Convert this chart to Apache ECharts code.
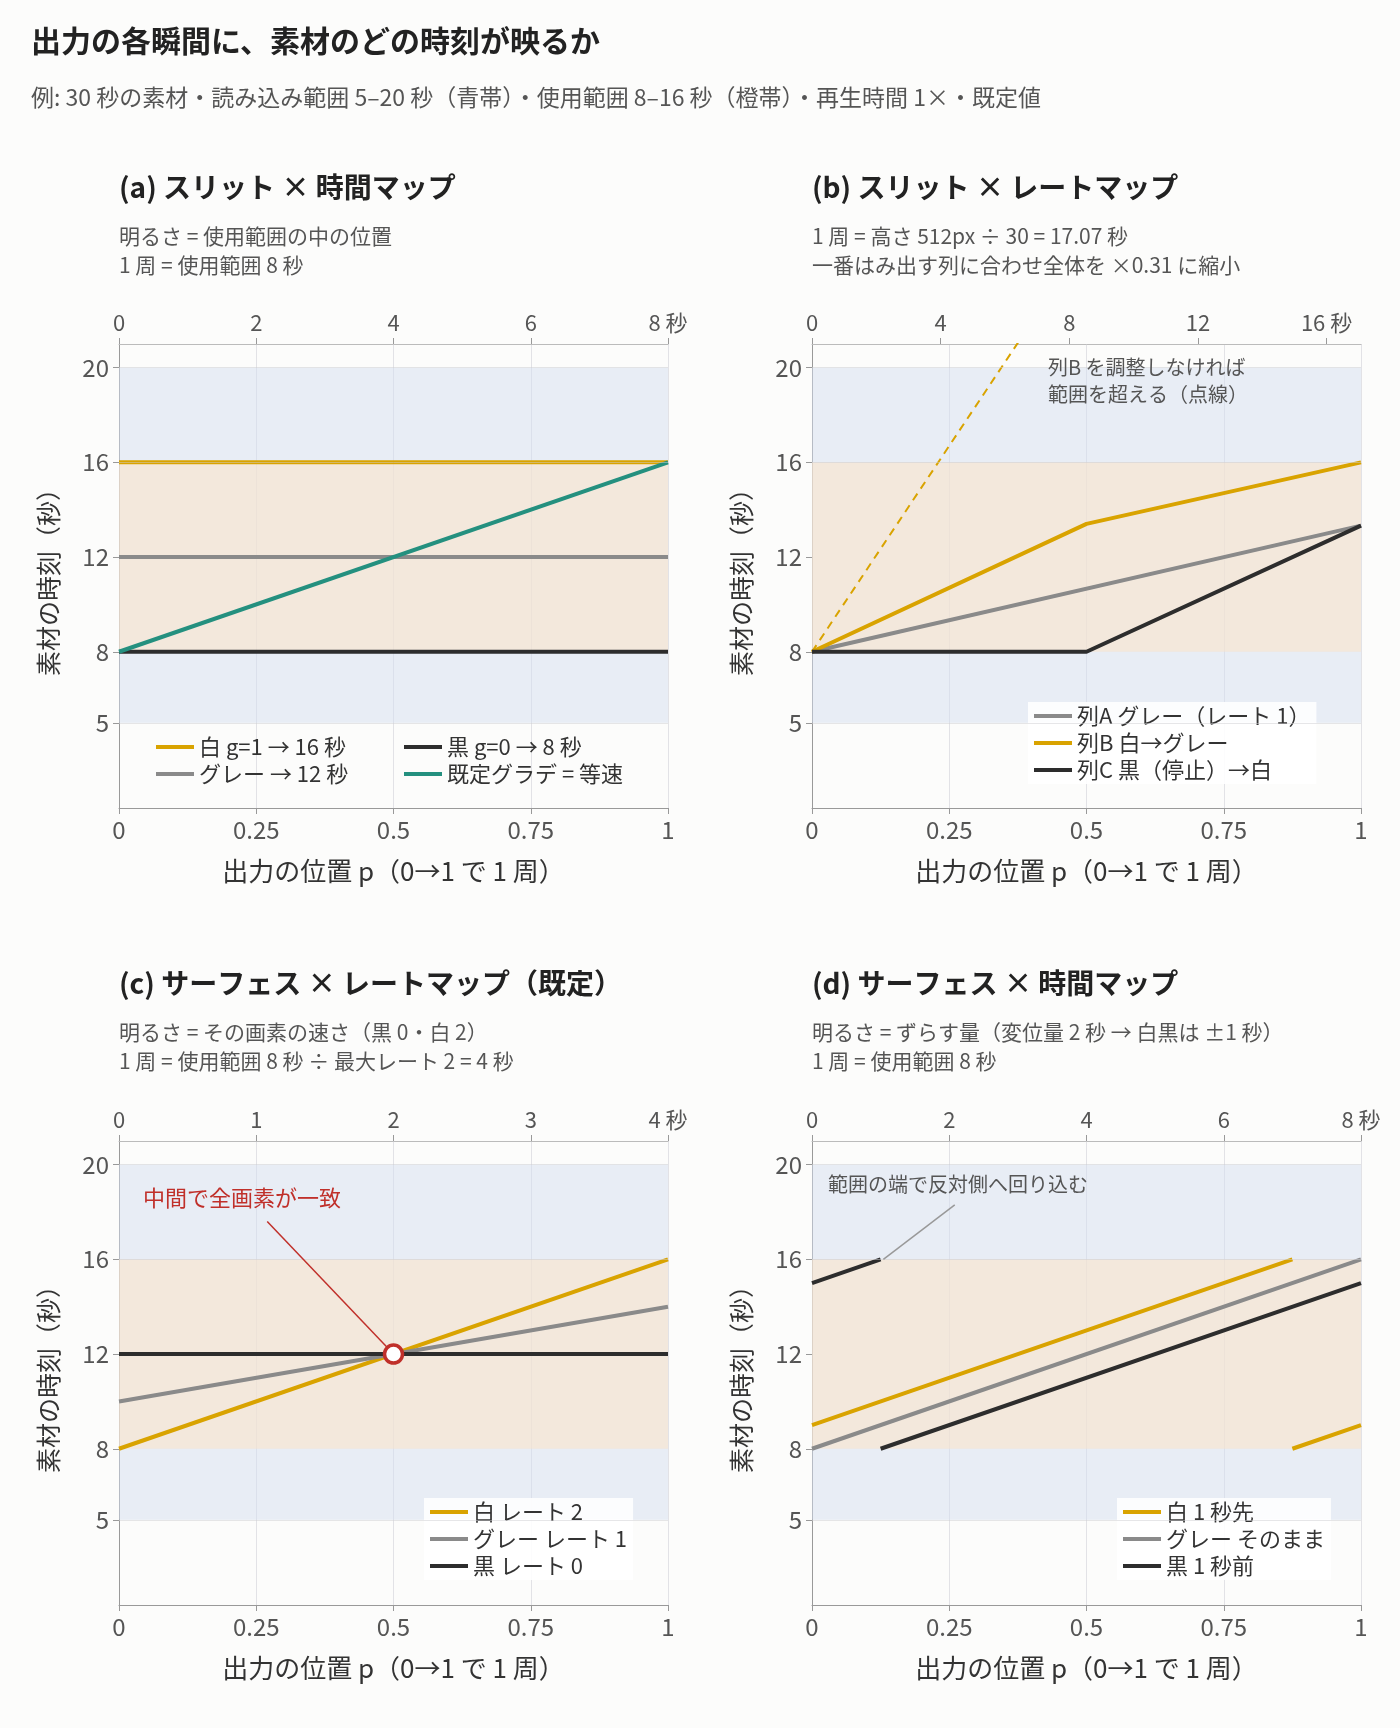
<!DOCTYPE html>
<html><head><meta charset="utf-8">
<script src="https://cdn.jsdelivr.net/npm/echarts@6/dist/echarts.min.js"></script>
<style>html,body{margin:0;background:#fcfcfb}#main{width:1400px;height:1728px}</style>
</head><body><div id="main"></div>
<script>
// (a) slit x time map
var aWhite = [[0, 16], [1, 16]];
var aGray = [[0, 12], [1, 12]];
var aBlack = [[0, 8], [1, 8]];
var aDefault = [[0, 8], [1, 16]];
// (b) slit x rate map
var bA = [[0, 8], [1, 13.33]];
var bB = [[0, 8], [0.5, 13.4], [1, 16]];
var bBraw = [[0, 8], [0.5, 25.4]];
var bC = [[0, 8], [0.5, 8], [1, 13.33]];
// (c) surface x rate map
var cWhite = [[0, 8], [1, 16]];
var cGray = [[0, 10], [1, 14]];
var cBlack = [[0, 12], [1, 12]];
// (d) surface x time map
var dWhite = [[0, 9], [0.875, 16], null, [0.875, 8], [1, 9]];
var dGray = [[0, 8], [1, 16]];
var dBlack = [[0, 15], [0.125, 16], null, [0.125, 8], [1, 15]];
var yTicks = [5, 8, 12, 16, 20];
var topMax = [8, 17.07, 4, 8];
var topStep = [2, 4, 1, 2];
var topLast = [8, 16, 4, 8];

var YEL = '#d9a300', GRY = '#8a8a8a', BLK = '#2d2d2d', TEAL = '#24907f';
var FONT = '"Noto Sans CJK JP", "Noto Sans", sans-serif';

var myChart = echarts.init(document.getElementById('main'));
var grids = [
  {left: 119, top: 344, width: 549, height: 464},
  {left: 812, top: 344, width: 549, height: 464},
  {left: 119, top: 1141, width: 549, height: 464},
  {left: 812, top: 1141, width: 549, height: 464}
];
var xAxes = [], yAxes = [], series = [];
grids.forEach(function (g, i) {
  xAxes.push({
    gridIndex: i, type: 'value', min: 0, max: 1, interval: 0.25,
    name: '出力の位置 p（0→1 で 1 周）', nameLocation: 'middle', nameGap: 50,
    nameTextStyle: {fontSize: 26, color: '#333', fontFamily: FONT},
    axisLine: {lineStyle: {color: '#999'}}, axisTick: {lineStyle: {color: '#999'}, length: 6},
    axisLabel: {fontSize: 24, color: '#555', margin: 10},
    splitLine: {show: true, lineStyle: {color: '#e2e2e6'}}
  });
  xAxes.push({
    gridIndex: i, type: 'value', position: 'top', min: 0, max: topMax[i], interval: topStep[i],
    axisLine: {show: true, lineStyle: {color: '#bbb'}}, axisTick: {show: true, lineStyle: {color: '#999'}, length: 6},
    axisLabel: {fontSize: 22, color: '#555', margin: 10, showMaxLabel: topMax[i] === topLast[i],
      formatter: function (v) { return v === topLast[i] ? v + ' 秒' : String(v); }},
    splitLine: {show: false}
  });
  yAxes.push({
    gridIndex: i, type: 'value', min: 1.4, max: 21,
    name: '素材の時刻（秒）', nameLocation: 'middle', nameGap: 58, nameRotate: 90,
    nameTextStyle: {fontSize: 25, color: '#333', fontFamily: FONT},
    axisLine: {show: true, lineStyle: {color: '#999'}},
    axisTick: {show: true, customValues: yTicks, lineStyle: {color: '#999'}, length: 6},
    axisLabel: {fontSize: 24, color: '#555', customValues: yTicks, margin: 10},
    splitLine: {show: false}
  });
  series.push({
    type: 'line', xAxisIndex: 2 * i, yAxisIndex: i, data: [], silent: true, z: 1,
    markArea: {silent: true, data: [
      [{yAxis: 5, itemStyle: {color: 'rgba(212,222,240,0.5)'}}, {yAxis: 20}],
      [{yAxis: 8, itemStyle: {color: 'rgba(252,228,200,0.55)'}}, {yAxis: 16}]
    ]},
    markLine: {silent: true, symbol: 'none', label: {show: false},
      lineStyle: {color: 'rgba(205,205,210,0.5)', type: 'solid', width: 1},
      data: [5, 16, 20].map(function (v) { return {yAxis: v}; })}
  });
});
function ln(i, name, data, color, extra) {
  var s = {type: 'line', name: name, xAxisIndex: 2 * i, yAxisIndex: i, data: data, symbol: 'none',
    lineStyle: {color: color, width: 4}, itemStyle: {color: color}, z: 3, animation: false, connectNulls: false};
  for (var k in extra) s[k] = extra[k];
  series.push(s);
}
ln(0, '白 g=1 → 16 秒', aWhite, YEL);
ln(0, 'グレー → 12 秒', aGray, GRY);
ln(0, '黒 g=0 → 8 秒', aBlack, BLK);
ln(0, '既定グラデ = 等速', aDefault, TEAL);
ln(1, 'braw', bBraw, YEL, {lineStyle: {color: YEL, width: 2, type: [8, 6]}, clip: true});
ln(1, '列A グレー（レート 1）', bA, GRY);
ln(1, '列B 白→グレー', bB, YEL);
ln(1, '列C 黒（停止）→白', bC, BLK);
ln(2, '白 レート 2', cWhite, YEL);
ln(2, 'グレー レート 1', cGray, GRY);
ln(2, '黒 レート 0', cBlack, BLK, {
  markLine: {silent: true, symbol: 'none', label: {show: false}, lineStyle: {color: '#c0302a', width: 1.5, type: 'solid'},
    data: [[{coord: [0.27, 17.6]}, {coord: [0.5, 12]}]]},
  markPoint: {silent: true, symbol: 'circle', symbolSize: 18, label: {show: false},
    itemStyle: {color: '#fff', borderColor: '#c0302a', borderWidth: 3.5}, data: [{coord: [0.5, 12]}]}
});
ln(3, '白 1 秒先', dWhite, YEL);
ln(3, 'グレー そのまま', dGray, GRY);
ln(3, '黒 1 秒前', dBlack, BLK, {
  markLine: {silent: true, symbol: 'none', label: {show: false}, lineStyle: {color: '#999', width: 1.5, type: 'solid'},
    data: [[{coord: [0.13, 16]}, {coord: [0.26, 18.3]}]]}
});

var lg = {textStyle: {fontSize: 22, color: '#333', fontFamily: FONT}, itemWidth: 38, itemHeight: 4, itemGap: 5,
  icon: 'rect', backgroundColor: 'rgba(255,255,255,0.9)', padding: [3, 6], orient: 'vertical', selectedMode: false};
function legend(o) { var r = {}; for (var k in lg) r[k] = lg[k]; for (var k2 in o) r[k2] = o[k2]; return r; }
var legends = [
  legend({left: 150, top: 733, data: ['白 g=1 → 16 秒', 'グレー → 12 秒'], backgroundColor: 'transparent'}),
  legend({left: 398, top: 733, data: ['黒 g=0 → 8 秒', '既定グラデ = 等速'], backgroundColor: 'transparent'}),
  legend({left: 1028, top: 702, data: ['列A グレー（レート 1）', '列B 白→グレー', '列C 黒（停止）→白']}),
  legend({left: 424, top: 1498, data: ['白 レート 2', 'グレー レート 1', '黒 レート 0']}),
  legend({left: 1117, top: 1498, data: ['白 1 秒先', 'グレー そのまま', '黒 1 秒前']})
];

function txt(x, y, t, size, color, weight) {
  return {type: 'text', left: x, top: y, z: 10,
    style: {text: t, fontSize: size, fill: color, fontWeight: weight || 'normal', fontFamily: FONT, lineHeight: size * 1.35}};
}
var graphics = [
  txt(31, 20, '出力の各瞬間に、素材のどの時刻が映るか', 30, '#222', 'bold'),
  txt(31, 82, '例: 30 秒の素材・読み込み範囲 5–20 秒（青帯）・使用範囲 8–16 秒（橙帯）・再生時間 1×・既定値', 23, '#555'),
  txt(119, 168, '(a) スリット × 時間マップ', 28, '#222', 'bold'),
  txt(119, 222, '明るさ = 使用範囲の中の位置\n1 周 = 使用範囲 8 秒', 21, '#555'),
  txt(812, 168, '(b) スリット × レートマップ', 28, '#222', 'bold'),
  txt(812, 222, '1 周 = 高さ 512px ÷ 30 = 17.07 秒\n一番はみ出す列に合わせ全体を ×0.31 に縮小', 21, '#555'),
  txt(1048, 354, '列B を調整しなければ\n範囲を超える（点線）', 20, '#555'),
  txt(119, 964, '(c) サーフェス × レートマップ（既定）', 28, '#222', 'bold'),
  txt(119, 1018, '明るさ = その画素の速さ（黒 0・白 2）\n1 周 = 使用範囲 8 秒 ÷ 最大レート 2 = 4 秒', 21, '#555'),
  txt(143, 1183, '中間で全画素が一致', 22, '#c0302a'),
  txt(812, 964, '(d) サーフェス × 時間マップ', 28, '#222', 'bold'),
  txt(812, 1018, '明るさ = ずらす量（変位量 2 秒 → 白黒は ±1 秒）\n1 周 = 使用範囲 8 秒', 21, '#555'),
  txt(828, 1171, '範囲の端で反対側へ回り込む', 20, '#555')
];

var option = {
  animation: false,
  textStyle: {fontFamily: FONT},
  grid: grids,
  xAxis: xAxes,
  yAxis: yAxes,
  legend: legends,
  graphic: graphics,
  series: series
};
myChart.setOption(option);
</script></body></html>
